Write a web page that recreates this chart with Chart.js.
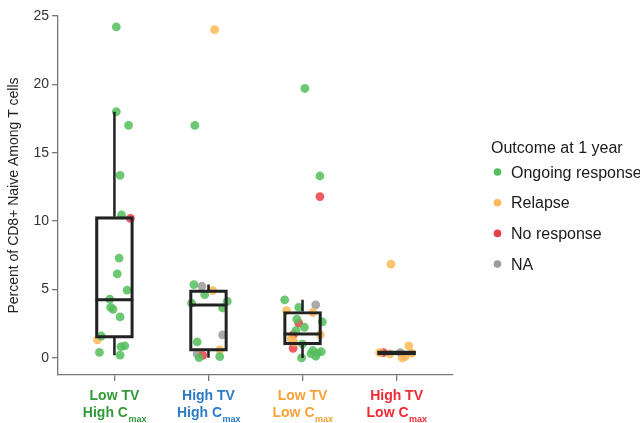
<!DOCTYPE html>
<html>
<head>
<meta charset="utf-8">
<script src="https://cdn.jsdelivr.net/npm/chart.js@4/dist/chart.umd.min.js"></script>
<style>
  html, body { margin: 0; padding: 0; background: #ffffff; }
  #wrap { width: 640px; height: 423px; }
</style>
</head>
<body>
<div id="wrap"><canvas id="c" width="640" height="423"></canvas></div>
<script>
// Treatment groups (x positions 1..4)
const groupTop = ['Low TV', 'High TV', 'Low TV', 'High TV'];
const groupBottom = ['High C', 'High C', 'Low C', 'Low C'];
const groupSub = ['max', 'max', 'max', 'max'];
const groupColors = ['#339a39', '#2b7bc6', '#f8a23a', '#ee2a35'];

// Box summaries per group
const boxQ1 = [1.45, 0.5, 0.95, 0.22];
const boxMedian = [4.25, 3.87, 1.75, 0.37];
const boxQ3 = [10.33, 4.97, 3.39, 0.52];
const whiskerLow = [0.2, 0.02, 0.0, 0.22];
const whiskerHigh = [18.0, 5.36, 4.25, 0.52];

// Individual patients, by outcome at 1 year (x = group + jitter)
const ongoingX = [1.02, 1.02, 1.15, 1.06, 1.075, 1.05, 1.03, 1.135, 0.95, 0.96, 0.985, 1.06, 0.86, 0.84, 1.07, 1.11, 1.06,
  1.855, 1.845, 1.96, 1.82, 2.2, 2.15, 1.88, 1.9, 2.12,
  3.025, 3.185, 2.81, 2.96, 3.21, 2.94, 3.02, 2.93, 3.0, 3.11, 3.09, 3.16, 3.2, 2.99, 3.14];
const ongoingY = [24.2, 18.0, 17.0, 13.35, 10.45, 7.3, 6.15, 4.95, 4.3, 3.7, 3.55, 3.0, 1.6, 0.4, 0.82, 0.88, 0.2,
  17.0, 5.36, 4.63, 4.0, 4.14, 3.65, 1.17, 0.02, 0.1,
  19.7, 13.3, 4.25, 3.7, 2.63, 2.83, 2.24, 2.0, 1.0, 0.54, 0.32, 0.36, 0.45, 0.0, 0.12];
const relapseX = [0.82, 2.065, 2.045, 2.12, 2.83, 3.11, 2.88, 2.91, 3.19, 3.94, 3.82, 3.93, 4.13, 4.09, 4.16, 4.06];
const relapseY = [1.32, 24.0, 4.92, 0.58, 3.45, 3.32, 1.4, 1.15, 1.7, 6.85, 0.39, 0.3, 0.88, 0.1, 0.34, 0.0];
const noResponseX = [1.17, 1.94, 3.185, 2.96, 2.9, 2.9, 3.86];
const noResponseY = [10.2, 0.19, 11.8, 2.55, 1.68, 0.7, 0.39];
const naX = [1.93, 2.15, 1.88, 3.14, 4.04];
const naY = [5.24, 1.68, 0.29, 3.87, 0.39];

const outcomeLabels = ['Ongoing response', 'Relapse', 'No response', 'NA'];
const outcomeColors = ['rgb(84,190,92)', 'rgb(253,185,86)', 'rgb(236,62,72)', 'rgb(155,155,155)'];
const outcomeFill = ['rgba(84,190,92,0.85)', 'rgba(253,185,86,0.85)', 'rgba(236,62,72,0.85)', 'rgba(155,155,155,0.85)'];
const legendTitle = 'Outcome at 1 year';

const yTitle = 'Percent of CD8+ Naive Among T cells';
const FONT = "'Liberation Sans', Arial, Helvetica, sans-serif";
Chart.defaults.font.family = FONT;

const pts = (xs, ys) => xs.map((x, i) => ({ x: x, y: ys[i] }));

// whisker segments, broken by null gaps
const whiskerData = [];
boxQ1.forEach((q1, i) => {
  const g = i + 1;
  whiskerData.push({ x: g, y: whiskerLow[i] }, { x: g, y: q1 }, { x: g, y: null });
  whiskerData.push({ x: g, y: boxQ3[i] }, { x: g, y: whiskerHigh[i] }, { x: g, y: null });
});
const HALF = 0.2;
const medianData = [];
boxMedian.forEach((m, i) => {
  const g = i + 1;
  medianData.push({ x: g - HALF, y: m }, { x: g + HALF, y: m }, { x: g, y: null });
});

const pointSets = [[ongoingX, ongoingY], [relapseX, relapseY], [noResponseX, noResponseY], [naX, naY]];

// box parts are drawn last (lowest order) so they sit over the patient dots
const datasets = [
  {
    type: 'line', label: 'median', data: medianData, order: -3,
    borderColor: '#222', borderWidth: 3, pointRadius: 0, spanGaps: false, borderCapStyle: 'butt'
  },
  {
    type: 'line', label: 'whiskers', data: whiskerData, order: -2,
    borderColor: '#222', borderWidth: 2.5, pointRadius: 0, spanGaps: false, borderCapStyle: 'butt'
  },
  {
    type: 'bar', label: 'box', order: -1,
    data: boxQ1.map((q1, i) => ({ x: i + 1, y: [q1, boxQ3[i]] })),
    backgroundColor: 'rgba(0,0,0,0)', borderColor: '#222', borderWidth: 2.5,
    borderSkipped: false, barThickness: 38
  }
];
pointSets.forEach((s, k) => {
  datasets.push({
    type: 'scatter', label: outcomeLabels[k], data: pts(s[0], s[1]), order: 1 + k,
    backgroundColor: outcomeFill[k], borderWidth: 0, pointRadius: 4.4, pointHoverRadius: 4.4
  });
});

const drawExtras = {
  id: 'drawExtras',
  afterDraw(chart) {
    const ctx = chart.ctx;
    const xs = chart.scales.x;
    ctx.save();
    // group labels under the x axis
    groupTop.forEach((t, i) => {
      const cx = xs.getPixelForValue(i + 1);
      ctx.fillStyle = groupColors[i];
      ctx.textAlign = 'center';
      ctx.textBaseline = 'alphabetic';
      ctx.font = 'bold 14px ' + FONT;
      ctx.fillText(t, cx, 400);
      const w1 = ctx.measureText(groupBottom[i]).width;
      ctx.font = 'bold 9px ' + FONT;
      const w2 = ctx.measureText(groupSub[i]).width;
      const start = cx - (w1 + w2) / 2;
      ctx.textAlign = 'left';
      ctx.font = 'bold 14px ' + FONT;
      ctx.fillText(groupBottom[i], start, 417);
      ctx.font = 'bold 9px ' + FONT;
      ctx.fillText(groupSub[i], start + w1 + 0.5, 422);
    });
    // outcome legend
    ctx.textAlign = 'left';
    ctx.fillStyle = '#1a1a1a';
    ctx.font = '16px ' + FONT;
    ctx.fillText(legendTitle, 491, 152.5);
    outcomeLabels.forEach((lab, i) => {
      const cy = 172 + i * 30.7;
      ctx.beginPath();
      ctx.fillStyle = outcomeColors[i];
      ctx.arc(497.5, cy, 3.8, 0, Math.PI * 2);
      ctx.fill();
      ctx.fillStyle = '#1a1a1a';
      ctx.fillText(lab, 511, cy + 5.7);
    });
    ctx.restore();
  }
};

new Chart(document.getElementById('c'), {
  type: 'scatter',
  data: { datasets: datasets },
  options: {
    responsive: false,
    animation: false,
    events: [],
    layout: { padding: { left: 0, right: 187, top: 16, bottom: 0 } },
    plugins: { legend: { display: false }, tooltip: { enabled: false } },
    scales: {
      x: {
        type: 'linear', min: 0.4, max: 4.6, offset: false,
        ticks: { stepSize: 1, includeBounds: false, display: false },
        grid: { display: true, offset: false, drawOnChartArea: false, drawTicks: true, tickLength: 6, color: '#777', lineWidth: 1.3 },
        border: { display: true, color: '#777', width: 1.3 },
        afterFit(s) { s.height = 48; }
      },
      y: {
        type: 'linear', min: -1.25, max: 25,
        ticks: { stepSize: 5, includeBounds: false, padding: 3, color: '#333', font: { size: 14 } },
        grid: { display: true, drawOnChartArea: false, drawTicks: true, tickLength: 6, color: '#777', lineWidth: 1.3 },
        border: { display: true, color: '#777', width: 1.3 },
        title: { display: true, text: yTitle, color: '#222', font: { size: 14 }, padding: { top: 6, bottom: 0 } },
        afterFit(s) { s.width = 58; }
      }
    }
  },
  plugins: [drawExtras]
});
</script>
</body>
</html>
